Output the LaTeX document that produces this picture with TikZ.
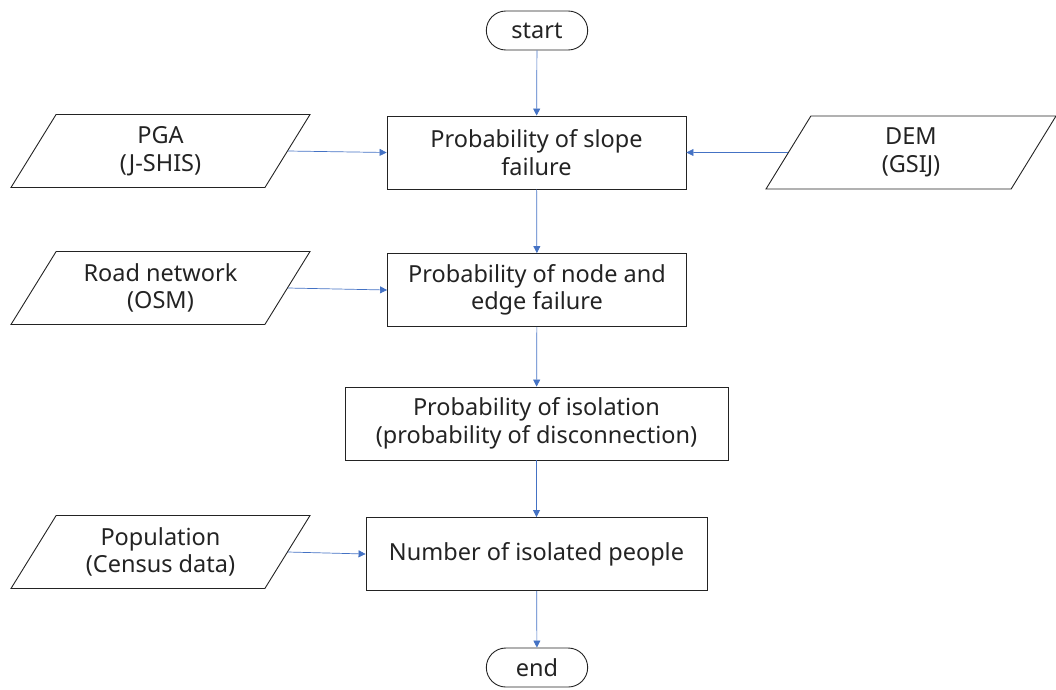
\documentclass[tikz,border=0pt]{standalone}
\usepackage{fontspec}
\setmainfont{Noto Sans}
\usetikzlibrary{shapes.geometric,shapes.misc,arrows.meta}
\definecolor{flowblue}{RGB}{68,114,196}
\definecolor{inkgray}{RGB}{35,35,35}

\begin{document}
\begin{tikzpicture}[x=1pt, y=-1pt,
	every node/.style = {align=center, text=inkgray,
		font=\fontsize{23.5}{27.5}\selectfont},
	process/.style = {rectangle, draw=inkgray, line width=0.9pt,
		minimum height=73pt},
	iobox/.style = {trapezium, draw=inkgray, line width=0.9pt,
		trapezium left angle=51, trapezium right angle=129,
		trapezium stretches body, minimum height=73pt, minimum width=299pt},
	terminal/.style = {rounded rectangle, draw=inkgray, line width=0.9pt,
		minimum width=108pt, minimum height=39pt, inner ysep=0pt},
	flow/.style = {draw=flowblue, line width=0.7pt,
		-{Triangle[length=7pt,width=7pt]}}]
	\useasboundingbox (0,0) rectangle (1056,689);

	% main column
	\node[terminal] (start) at (537,30.5) {start};
	\node[process, minimum width=299pt] (slope) at (536.5,152.5) {Probability of slope\\failure};
	\node[process, minimum width=299pt] (edge) at (537,290) {Probability of node and\\edge failure};
	\node[process, minimum width=383pt] (isol) at (536.5,423.5) {Probability of isolation\\(probability of disconnection)};
	\node[process, minimum width=341pt] (people) at (536.5,554) {Number of isolated people};
	\node[terminal] (end) at (537,667.5) {end};

	% input data
	\node[iobox] (pga) at (160.5,151) {PGA\\(J-SHIS)};
	\node[iobox, minimum width=290pt] (dem) at (911,152.5) {DEM\\(GSIJ)};
	\node[iobox] (road) at (160.5,288) {Road network\\(OSM)};
	\node[iobox] (pop) at (160.5,552) {Population\\(Census data)};

	% connectors
	\draw[flow] (start) -- (slope);
	\draw[flow] (slope) -- (edge);
	\draw[flow] (edge) -- (isol);
	\draw[flow] (isol) -- (people);
	\draw[flow] (people) -- (end);
	\draw[flow] (pga.east) -- (slope.west);
	\draw[flow] (dem.west) -- (slope.east);
	\draw[flow] (road.east) -- (edge.west);
	\draw[flow] (pop.east) -- (people.west);
\end{tikzpicture}
\end{document}
